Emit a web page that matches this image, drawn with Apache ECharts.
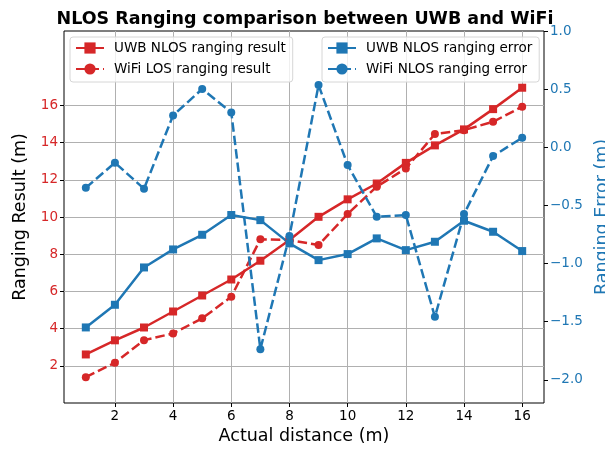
<!DOCTYPE html>
<html>
<head>
<meta charset="utf-8">
<script src="https://cdn.jsdelivr.net/npm/echarts@6/dist/echarts.min.js"></script>
<style>html,body{margin:0;padding:0;background:#fff;}#chart{width:605px;height:451px;}</style>
</head>
<body>
<div id="chart"></div>
<script>
const distances = [1,2,3,4,5,6,7,8,9,10,11,12,13,14,15,16];
const uwbResult = [2.61,3.37,4.06,4.92,5.78,6.64,7.65,8.76,10.01,10.95,11.8,12.91,13.85,14.71,15.8,16.95];
const wifiResult = [1.39,2.16,3.38,3.74,4.55,5.71,8.8,8.76,8.49,10.16,11.63,12.61,14.46,14.67,15.12,15.93];
const uwbError = [-1.55,-1.355,-1.034,-0.879,-0.753,-0.583,-0.627,-0.827,-0.971,-0.919,-0.784,-0.885,-0.813,-0.632,-0.727,-0.893];
const wifiError = [-0.349,-0.133,-0.357,0.274,0.501,0.300,-1.737,-0.764,0.535,-0.153,-0.598,-0.583,-1.459,-0.575,-0.076,0.082];
const xTicks = [2,4,6,8,10,12,14,16];
const leftTicks = [2,4,6,8,10,12,14,16];
const rightTicks = [-2.0,-1.5,-1.0,-0.5,0.0,0.5,1.0];

const RED = '#d62728', BLUE = '#1f77b4';
const FONT = 'DejaVu Sans';
const pairs = arr => distances.map((d, i) => [d, arr[i]]);
const minus = s => s.replace('-', '\u2212');

const chart = echarts.init(document.getElementById('chart'), null, {renderer: 'canvas'});
const legendCommon = {
  orient: 'vertical', top: 37, itemWidth: 28, itemHeight: 14, itemGap: 7,
  padding: [4, 7, 6, 5], borderColor: '#d6d6d6', borderWidth: 1, borderRadius: 3,
  backgroundColor: 'rgba(255,255,255,0.8)',
  textStyle: {fontSize: 13.5, fontFamily: FONT, color: '#000', padding: [0, 0, 0, 5]}
};
const lineSeries = (name, data, color, symbol, dashed, yIdx) => ({
  name, type: 'line', data, yAxisIndex: yIdx,
  symbol, symbolSize: 8, showSymbol: true,
  lineStyle: {color, width: 2.5, type: dashed ? [9.5, 4] : 'solid'},
  itemStyle: {color, borderWidth: 0},
  emphasis: {disabled: true}, animation: false
});
chart.setOption({
  animation: false,
  title: {
    text: 'NLOS Ranging comparison between UWB and WiFi',
    left: 300, top: 5, textAlign: 'center',
    textStyle: {fontFamily: FONT, fontSize: 17.5, fontWeight: 'bold', color: '#000'}
  },
  grid: {left: 64, right: 61, top: 31, bottom: 48, show: true, borderColor: '#000', borderWidth: 1,
    backgroundColor: '#fff', outerBoundsMode: 'none', containLabel: false},
  legend: [
    Object.assign({left: 70, data: ['UWB NLOS ranging result', 'WiFi LOS ranging result']}, legendCommon),
    Object.assign({left: 322, data: ['UWB NLOS ranging error', 'WiFi NLOS ranging error']}, legendCommon)
  ],
  xAxis: {
    type: 'value', min: 0.25, max: 16.75,
    name: 'Actual distance (m)', nameLocation: 'middle', nameGap: 24,
    nameTextStyle: {fontFamily: FONT, fontSize: 17.5, color: '#000'},
    axisLine: {show: false},
    axisTick: {show: true, length: 4, lineStyle: {color: '#000'}, customValues: xTicks},
    axisLabel: {fontFamily: FONT, fontSize: 13.5, color: '#000', margin: 6, customValues: xTicks},
    splitLine: {show: true, lineStyle: {color: '#b0b0b0', width: 1}}
  },
  yAxis: [
    {
      type: 'value', min: 0, max: 20, position: 'left',
      name: 'Ranging Result (m)', nameLocation: 'middle', nameGap: 30,
      nameTextStyle: {fontFamily: FONT, fontSize: 17.5, color: '#000'},
      axisLine: {show: false},
      axisTick: {show: true, length: 4, lineStyle: {color: '#000'}, customValues: leftTicks},
      axisLabel: {fontFamily: FONT, fontSize: 13.5, color: RED, margin: 6, customValues: leftTicks},
      splitLine: {show: true, lineStyle: {color: '#b0b0b0', width: 1}}
    },
    {
      type: 'value', min: -2.2, max: 1.0, position: 'right',
      name: 'Ranging Error (m)', nameLocation: 'middle', nameGap: 46,
      nameTextStyle: {fontFamily: FONT, fontSize: 17.5, color: BLUE},
      axisLine: {show: false},
      axisTick: {show: true, length: 4, lineStyle: {color: '#000'}, customValues: rightTicks},
      axisLabel: {fontFamily: FONT, fontSize: 13.5, color: BLUE, margin: 6, customValues: rightTicks,
        formatter: v => minus(Number(v).toFixed(1))},
      splitLine: {show: false}
    }
  ],
  series: [
    lineSeries('UWB NLOS ranging result', pairs(uwbResult), RED, 'rect', false, 0),
    lineSeries('WiFi LOS ranging result', pairs(wifiResult), RED, 'circle', true, 0),
    lineSeries('UWB NLOS ranging error', pairs(uwbError), BLUE, 'rect', false, 1),
    lineSeries('WiFi NLOS ranging error', pairs(wifiError), BLUE, 'circle', true, 1)
  ]
});
</script>
</body>
</html>
